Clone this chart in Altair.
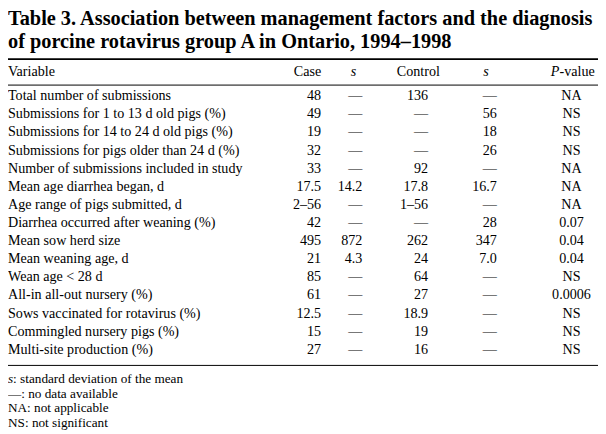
import altair as alt
import pandas as pd

# ---------------- data ----------------
title_lines = [
    "Table 3. Association between management factors and the diagnosis",
    "of porcine rotavirus group A in Ontario, 1994\u20131998",
]
header_labels = ["Variable", "Case", "s", "Control", "s", "P", "-value"]

variables = [
    "Total number of submissions",
    "Submissions for 1 to 13 d old pigs (%)",
    "Submissions for 14 to 24 d old pigs (%)",
    "Submissions for pigs older than 24 d (%)",
    "Number of submissions included in study",
    "Mean age diarrhea began, d",
    "Age range of pigs submitted, d",
    "Diarrhea occurred after weaning (%)",
    "Mean sow herd size",
    "Mean weaning age, d",
    "Wean age < 28 d",
    "All-in all-out nursery (%)",
    "Sows vaccinated for rotavirus (%)",
    "Commingled nursery pigs (%)",
    "Multi-site production (%)",
]
case_values = ["48", "49", "19", "32", "33", "17.5", "2\u201356", "42", "495", "21", "85", "61", "12.5", "15", "27"]
case_s = ["\u2014", "\u2014", "\u2014", "\u2014", "\u2014", "14.2", "\u2014", "\u2014", "872", "4.3", "\u2014", "\u2014", "\u2014", "\u2014", "\u2014"]
control_values = ["136", "\u2014", "\u2014", "\u2014", "92", "17.8", "1\u201356", "\u2014", "262", "24", "64", "27", "18.9", "19", "16"]
control_s = ["\u2014", "56", "18", "26", "\u2014", "16.7", "\u2014", "28", "347", "7.0", "\u2014", "\u2014", "\u2014", "\u2014", "\u2014"]
p_values = ["NA", "NS", "NS", "NS", "NA", "NA", "NA", "0.07", "0.04", "0.04", "NS", "0.0006", "NS", "NS", "NS"]

footnote_first_italic = "s"
footnotes = [
    ": standard deviation of the mean",
    "\u2014: no data available",
    "NA: not applicable",
    "NS: not significant",
]

# ---------------- layout helpers ----------------
FONT = "Liberation Serif"
BODY = 14.3
FOOT = 13.4
W, H = 598, 426


def X(v):
    return (v - 3) * 0.995


def Y(v):
    return (v - 3) * 0.99


rows = pd.DataFrame({
    "row": list(range(len(variables))),
    "variable": variables,
    "case": case_values,
    "case_s": case_s,
    "control": control_values,
    "control_s": control_s,
    "p": p_values,
})

yscale = alt.Scale(domain=[0, len(variables) - 1], range=[Y(90.5), Y(350)], zero=False, nice=False)
base = alt.Chart(rows)


def col(field, x, align):
    return base.mark_text(font=FONT, fontSize=BODY, align=align, baseline="middle", color="black").encode(
        x=alt.value(X(x)),
        y=alt.Y("row:Q", scale=yscale, axis=None),
        text=f"{field}:N",
    )


def label(text, x, y, align="left", size=BODY, weight="normal", style="normal", baseline="middle"):
    return alt.Chart(pd.DataFrame({"t": [text]})).mark_text(
        font=FONT, fontSize=size, align=align, baseline=baseline, color="black",
        fontWeight=weight, fontStyle=style,
    ).encode(x=alt.value(X(x)), y=alt.value(Y(y)), text="t:N")


def hrule(y, w):
    return alt.Chart(pd.DataFrame({"a": [0]})).mark_rule(color="black", strokeWidth=w).encode(
        x=alt.value(0), x2=alt.value(W), y=alt.value(Y(y))
    )


layers = [
    label(title_lines[0], 3, 17.5, size=20.6, weight="bold", baseline="alphabetic"),
    label(title_lines[1], 3, 41, size=20.6, weight="bold", baseline="alphabetic"),
    hrule(52.5, 1.8),
    label(header_labels[0], 3, 65.5),
    label(header_labels[1], 322, 65.5, align="right"),
    label(header_labels[2], 355, 65.5, align="center", style="italic"),
    label(header_labels[3], 421, 65.5, align="center"),
    label(header_labels[4], 490, 65.5, align="center", style="italic"),
    label(header_labels[5], 556, 65.5, style="italic"),
    label(header_labels[6], 564.8, 65.5),
    hrule(79, 1),
    col("variable", 3, "left"),
    col("case", 322, "right"),
    col("case_s", 364, "right"),
    col("control", 431, "right"),
    col("control_s", 501, "right"),
    col("p", 577, "center"),
    hrule(366, 1),
    label(footnote_first_italic, 3, 380, size=FOOT, style="italic"),
    label(footnotes[0], 8.2, 380, size=FOOT),
    label(footnotes[1], 3, 395, size=FOOT),
    label(footnotes[2], 3, 410, size=FOOT),
    label(footnotes[3], 3, 425, size=FOOT),
]

chart = alt.layer(*layers).properties(
    width=W, height=H, padding=0, autosize=alt.AutoSizeParams(type="none"), background="white"
).configure_view(stroke=None)

chart.save("out.html", embed_options={"renderer": "svg", "actions": False})
